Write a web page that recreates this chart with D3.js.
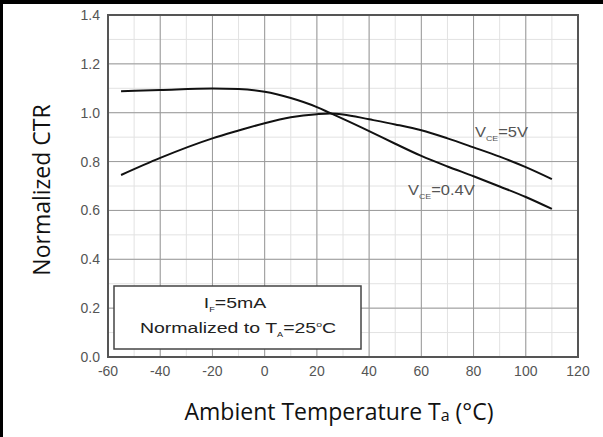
<!DOCTYPE html>
<html>
<head>
<meta charset="utf-8">
<script src="https://cdn.jsdelivr.net/npm/d3@7"></script>
<style>
  html, body { margin: 0; padding: 0; background: #fff; }
  svg { display: block; }
</style>
</head>
<body>
<div id="chart"></div>
<script>
// temperatures (°C) sampled along the curves
var temps = [-55, -40, -20, -10, 0, 10, 20, 25, 30, 40, 50, 60, 70, 80, 90, 100, 110];
// V_CE = 5V curve
var ctr5V = [0.745, 0.815, 0.895, 0.927, 0.957, 0.981, 0.994, 0.997, 0.993, 0.973, 0.952, 0.928, 0.895, 0.858, 0.82, 0.777, 0.728];
// V_CE = 0.4V curve
var ctr04V = [1.088, 1.093, 1.099, 1.097, 1.086, 1.06, 1.023, 0.999, 0.975, 0.925, 0.873, 0.823, 0.78, 0.74, 0.698, 0.655, 0.606];

var xTicks = [-60, -40, -20, 0, 20, 40, 60, 80, 100, 120];
var yTicks = [0.0, 0.2, 0.4, 0.6, 0.8, 1.0, 1.2, 1.4];
var xMinor = d3.range(-60, 121, 10);
var yMinor = d3.range(0, 1.41, 0.1);

var W = 603, H = 437;
var svg = d3.select("#chart").append("svg").attr("width", W).attr("height", H);

// black frame edges of the screenshot
svg.append("rect").attr("x", 0).attr("y", 0).attr("width", W).attr("height", 4).attr("fill", "#000");
svg.append("rect").attr("x", 0).attr("y", 0).attr("width", 3).attr("height", H).attr("fill", "#000");

var x = d3.scaleLinear().domain([-60, 120]).range([108, 578]);
var y = d3.scaleLinear().domain([0, 1.4]).range([357, 15]);

var g = svg.append("g");
var arial = "'Liberation Sans', Arial, sans-serif";

// minor grid
g.selectAll(".vminor").data(xMinor).enter().append("line")
  .attr("x1", function (d) { return x(d); }).attr("x2", function (d) { return x(d); })
  .attr("y1", y(0)).attr("y2", y(1.4))
  .attr("stroke", "#e2e2e2").attr("stroke-width", 1);
g.selectAll(".hminor").data(yMinor).enter().append("line")
  .attr("y1", function (d) { return y(d); }).attr("y2", function (d) { return y(d); })
  .attr("x1", x(-60)).attr("x2", x(120))
  .attr("stroke", "#e2e2e2").attr("stroke-width", 1);

// major grid
g.selectAll(".vmajor").data(xTicks).enter().append("line")
  .attr("x1", function (d) { return x(d); }).attr("x2", function (d) { return x(d); })
  .attr("y1", y(0)).attr("y2", y(1.4))
  .attr("stroke", "#9a9a9a").attr("stroke-width", 1);
g.selectAll(".hmajor").data(yTicks).enter().append("line")
  .attr("y1", function (d) { return y(d); }).attr("y2", function (d) { return y(d); })
  .attr("x1", x(-60)).attr("x2", x(120))
  .attr("stroke", "#9a9a9a").attr("stroke-width", 1);

// plot frame
g.append("rect")
  .attr("x", x(-60)).attr("y", y(1.4))
  .attr("width", x(120) - x(-60)).attr("height", y(0) - y(1.4))
  .attr("fill", "none").attr("stroke", "#555").attr("stroke-width", 2);

// tick labels
g.selectAll(".ylab").data(yTicks).enter().append("text")
  .attr("x", 100).attr("y", function (d) { return y(d) + 5; })
  .attr("text-anchor", "end")
  .style("font-family", arial).style("font-size", "14px")
  .attr("fill", "#555")
  .text(function (d) { return d3.format(".1f")(d); });
g.selectAll(".xlab").data(xTicks).enter().append("text")
  .attr("x", function (d) { return x(d); }).attr("y", 376)
  .attr("text-anchor", "middle")
  .style("font-family", arial).style("font-size", "14px")
  .attr("fill", "#555")
  .text(function (d) { return d; });

// curves
var line = d3.line()
  .x(function (d) { return x(d[0]); })
  .y(function (d) { return y(d[1]); })
  .curve(d3.curveMonotoneX);

[ctr5V, ctr04V].forEach(function (vals) {
  g.append("path")
    .datum(temps.map(function (t, i) { return [t, vals[i]]; }))
    .attr("d", line)
    .attr("fill", "none").attr("stroke", "#111").attr("stroke-width", 2);
});

// curve labels
function vceLabel(px, py, val) {
  var t = g.append("text").attr("transform", "translate(" + px + "," + py + ") scale(1.1,1)")
    .style("font-family", arial).style("font-size", "15px")
    .attr("fill", "#555");
  t.append("tspan").text("V");
  t.append("tspan").attr("dy", 4).style("font-size", "8px").text("CE");
  t.append("tspan").attr("dy", -4).text("=" + val);
}
vceLabel(475, 137, "5V");
vceLabel(408, 195, "0.4V");

// condition box
g.append("rect")
  .attr("x", 114).attr("y", 286).attr("width", 247).attr("height", 63)
  .attr("fill", "#fff").attr("stroke", "#444").attr("stroke-width", 1.5);
var t1 = g.append("text").attr("transform", "translate(235,308) scale(1.3,1)").attr("text-anchor", "middle")
  .style("font-family", arial).style("font-size", "15px").attr("fill", "#222");
t1.append("tspan").text("I");
t1.append("tspan").attr("dy", 4).style("font-size", "7px").text("F");
t1.append("tspan").attr("dy", -4).text("=5mA");
var t2 = g.append("text").attr("transform", "translate(238,333) scale(1.3,1)").attr("text-anchor", "middle")
  .style("font-family", arial).style("font-size", "15px").attr("fill", "#222");
t2.append("tspan").text("Normalized to T");
t2.append("tspan").attr("dy", 4).style("font-size", "7px").text("A");
t2.append("tspan").attr("dy", -4).text("=25");
t2.append("tspan").attr("dy", -6).style("font-size", "8px").text("o");
t2.append("tspan").attr("dy", 6).text("C");

// axis titles
var xt = svg.append("text").attr("x", 339).attr("y", 420).attr("text-anchor", "middle")
  .style("font-family", "'Open Sans', sans-serif").style("font-size", "23px").attr("fill", "#111");
xt.append("tspan").text("Ambient Temperature T");
xt.append("tspan").attr("dy", 1).style("font-size", "16px").text("a");
xt.append("tspan").attr("dy", -1).text(" (°C)");

svg.append("text")
  .attr("transform", "translate(50,190) rotate(-90)")
  .attr("text-anchor", "middle")
  .style("font-family", "'Open Sans', sans-serif").style("font-size", "23px").attr("fill", "#111")
  .text("Normalized CTR");
</script>
</body>
</html>
